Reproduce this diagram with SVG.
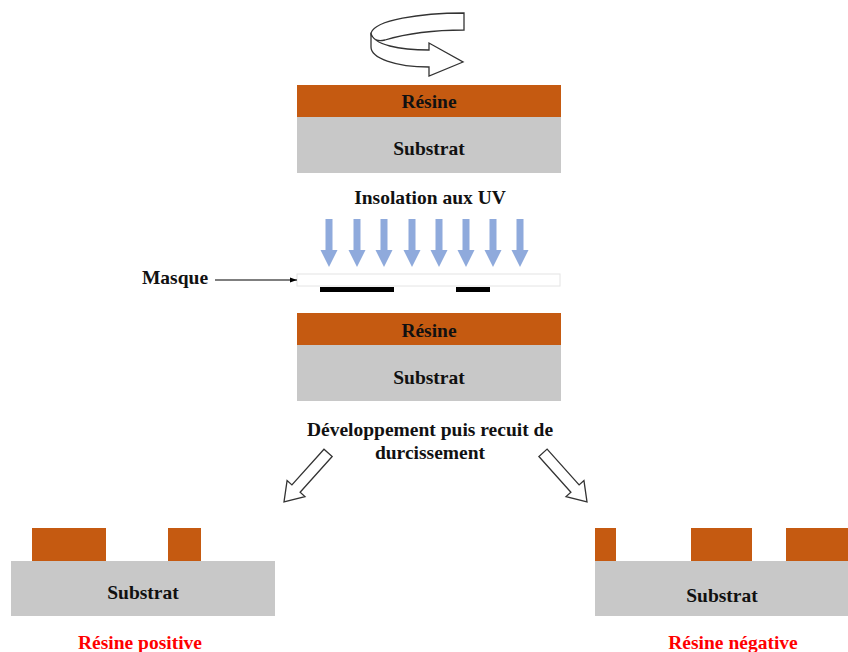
<svg xmlns="http://www.w3.org/2000/svg" width="848" height="652" viewBox="0 0 848 652">
<style>
.res{fill:#C55A11}
.sub{fill:#C8C8C8}
.t{font-family:"Liberation Serif","Times New Roman",serif;font-weight:bold;font-size:19.5px;text-anchor:middle;fill:#111}
.red{fill:#FF0000}
.uv{fill:#8FAADC}
.hollow{fill:#fff;stroke:#333;stroke-width:1.3;stroke-linejoin:miter}
</style>
<defs>
<g id="uvArrow"><rect x="-3.5" y="219" width="7" height="32" class="uv"/><polygon points="-8.5,250 8.5,250 0,267" class="uv"/></g>
<polygon id="hollowArrow" points="-66,-5.5 -18,-5.5 -18,-12 0,0 -18,12 -18,5.5 -66,5.5" class="hollow"/>
<marker id="ah" viewBox="0 0 10 10" refX="10" refY="5" markerWidth="7" markerHeight="7" orient="auto" markerUnits="userSpaceOnUse"><path d="M0,1.5 L10,5 L0,8.5 Z" fill="#000"/></marker>
</defs>
<rect width="848" height="652" fill="#fff"/>

<g id="rotation">
<path d="M464,13 C420,13 375,20 371,33 C371,38 375,42 385,40 C405,34 435,30 464,30 Z" class="hollow"/>
<path d="M371,33 C373,45 400,50 429,50 L429,43 L463,62 L429,76 L429,67 C395,67 371,58 371,47 Z" class="hollow"/>
</g>

<g id="stack1">
<rect x="297" y="85" width="264" height="32" class="res"/>
<rect x="297" y="117" width="264" height="56" class="sub"/>
<text x="429" y="108" class="t">Résine</text>
<text x="429" y="155" class="t">Substrat</text>
</g>

<g id="insolation"><text x="430" y="204" class="t">Insolation aux UV</text></g>

<g id="uv">
<use href="#uvArrow" x="329"/><use href="#uvArrow" x="357"/><use href="#uvArrow" x="384"/><use href="#uvArrow" x="412"/>
<use href="#uvArrow" x="439"/><use href="#uvArrow" x="466"/><use href="#uvArrow" x="493"/><use href="#uvArrow" x="520"/>
</g>

<g id="masque">
<rect x="297" y="274" width="263" height="12" fill="#fff" stroke="#e4e4e4" stroke-width="1"/>
<rect x="320" y="287" width="74" height="5" fill="#000"/>
<rect x="456" y="287" width="34" height="5" fill="#000"/>
<text x="175" y="284" class="t">Masque</text>
</g>

<g id="stack2">
<rect x="297" y="313" width="264" height="32" class="res"/>
<rect x="297" y="345" width="264" height="56" class="sub"/>
<text x="429" y="337" class="t">Résine</text>
<text x="429" y="384" class="t">Substrat</text>
</g>

<g id="dev">
<text x="430" y="436" class="t">Développement puis recuit de</text>
<text x="430" y="459" class="t">durcissement</text>
</g>

<g id="positive">
<rect x="32" y="528" width="74" height="33" class="res"/>
<rect x="168" y="528" width="33" height="33" class="res"/>
<rect x="11" y="561" width="264" height="55" class="sub"/>
<text x="143" y="599" class="t">Substrat</text>
<text x="140" y="649" class="t red">Résine positive</text>
</g>

<g id="negative">
<rect x="595" y="528" width="21" height="33" class="res"/>
<rect x="691" y="528" width="61" height="33" class="res"/>
<rect x="786" y="528" width="62" height="33" class="res"/>
<rect x="595" y="561" width="253" height="55" class="sub"/>
<text x="722" y="602" class="t">Substrat</text>
<text x="733" y="649" class="t red">Résine négative</text>
</g>

<g id="connectors">
<line x1="215" y1="280" x2="297" y2="280" stroke="#000" stroke-width="1.2" marker-end="url(#ah)"/>
<use href="#hollowArrow" transform="translate(284,502) rotate(131.9)"/>
<use href="#hollowArrow" transform="translate(587,502) rotate(48.2)"/>
</g>
</svg>
